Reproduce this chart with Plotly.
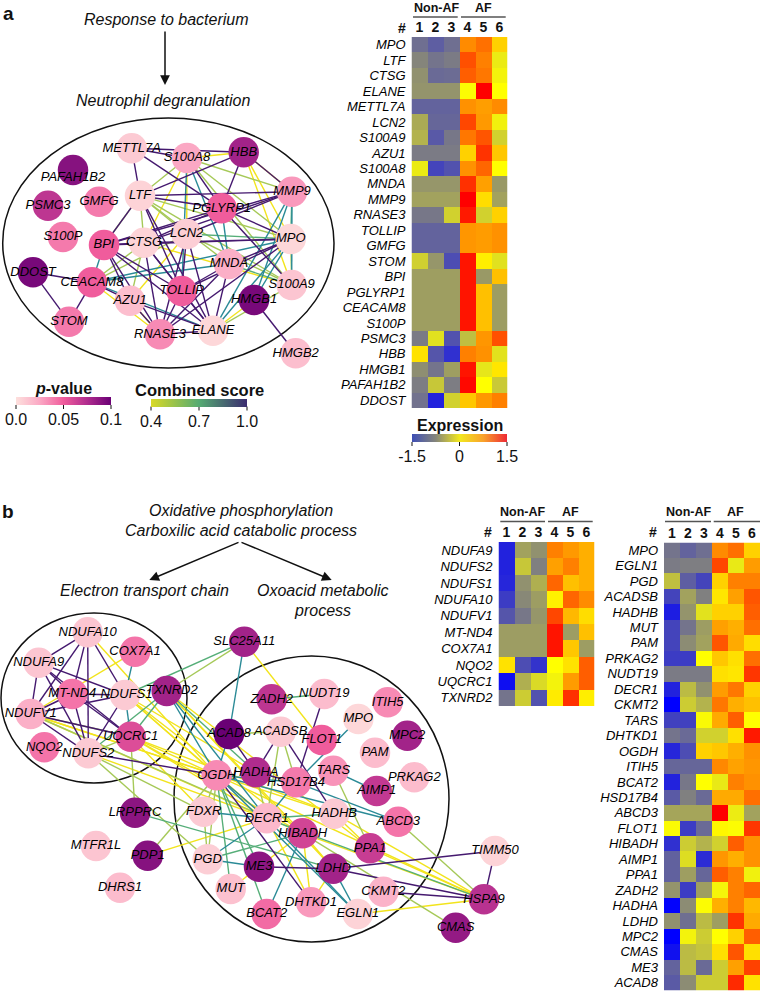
"""
Neutrophil and mitochondrial gene networks with expression heatmaps
"""

import plotly.graph_objects as go
from plotly.colors import sample_colorscale

W = 760
H = 992
FONT = "Liberation Sans"

samples = [1, 2, 3, 4, 5, 6]

# ---- heatmap a
genes_a = ["MPO", "LTF", "CTSG", "ELANE", "METTL7A", "LCN2", "S100A9", "AZU1", "S100A8", "MNDA",
           "MMP9", "RNASE3", "TOLLIP", "GMFG", "STOM", "BPI", "PGLYRP1", "CEACAM8", "S100P",
           "PSMC3", "HBB", "HMGB1", "PAFAH1B2", "DDOST"]
expr_a = [
    [-0.85, -0.95, -0.85, 0.68, 0.84, 0.27],
    [-0.72, -0.82, -0.78, 1.03, 0.75, -0.12],
    [-0.65, -0.88, -0.87, 0.95, 0.80, -0.07],
    [-0.63, -0.63, -0.63, -0.02, 1.50, 0.00],
    [-0.92, -0.92, -0.92, 0.65, 0.57, 0.68],
    [-0.50, -0.90, -0.90, 1.08, 0.60, -0.08],
    [-0.45, -0.98, -0.80, 0.80, 1.00, -0.27],
    [-0.78, -0.78, -0.78, 0.27, 1.20, 0.33],
    [-0.12, -1.10, -1.02, 0.65, 0.90, 0.00],
    [-0.62, -0.62, -0.62, 1.22, 0.56, -0.60],
    [-0.55, -0.55, -0.55, 1.50, 0.20, -0.55],
    [-0.80, -0.80, -0.27, 1.35, -0.27, 0.27],
    [-0.92, -0.92, -0.92, 0.62, 0.58, 0.65],
    [-0.92, -0.92, -0.92, 0.62, 0.58, 0.65],
    [-0.28, -0.62, -1.05, 1.38, 0.10, -0.18],
    [-0.57, -0.57, -0.57, 1.38, -0.60, 0.37],
    [-0.57, -0.57, -0.57, 1.38, 0.37, -0.58],
    [-0.57, -0.57, -0.57, 1.38, 0.37, -0.58],
    [-0.57, -0.57, -0.57, 1.38, 0.37, -0.58],
    [-0.78, -0.18, -1.02, -0.38, 0.62, 1.03],
    [0.17, -1.00, -1.22, 0.75, 0.65, -0.17],
    [-0.67, -0.82, -0.57, 1.38, -0.15, 0.15],
    [-0.77, -0.33, -0.77, 1.45, 0.00, -0.32],
    [-0.83, -1.30, -0.27, 0.33, 0.60, 0.75],
]

# ---- heatmap b, left
genes_b1 = ["NDUFA9", "NDUFS2", "NDUFS1", "NDUFA10", "NDUFV1", "MT-ND4", "COX7A1", "NQO2", "UQCRC1", "TXNRD2"]
expr_b1 = [
    [-1.30, -0.55, -0.65, 0.75, 0.60, 0.47],
    [-1.30, -0.33, -0.75, 0.56, 0.75, 0.47],
    [-1.28, -0.65, -0.47, 0.90, 0.37, 0.47],
    [-1.15, -0.70, -0.58, 0.08, 0.90, 0.68],
    [-1.00, -0.80, -0.62, 1.08, 0.42, 0.20],
    [-0.58, -0.58, -0.58, 1.38, -0.58, 0.37],
    [-0.58, -0.58, -0.58, 1.38, 0.33, -0.58],
    [0.17, -1.05, -1.20, 0.00, 0.17, 0.95],
    [-1.42, -0.47, -0.22, -0.07, 0.58, 0.95],
    [-0.82, -0.30, -1.02, 0.12, 1.22, 0.10],
]

# ---- heatmap b, right
genes_b2 = ["MPO", "EGLN1", "PGD", "ACADSB", "HADHB", "MUT", "PAM", "PRKAG2", "NUDT19", "DECR1", "CKMT2",
            "TARS", "DHTKD1", "OGDH", "ITIH5", "BCAT2", "HSD17B4", "ABCD3", "FLOT1", "HIBADH", "AIMP1",
            "PPA1", "ZADH2", "HADHA", "LDHD", "MPC2", "CMAS", "ME3", "ACAD8"]
expr_b2 = [
    [-0.82, -0.92, -0.85, 0.68, 0.85, 0.27],
    [-0.78, -0.76, -0.76, 1.08, -0.13, 0.58],
    [-0.37, -0.95, -1.10, 0.27, 0.75, 0.75],
    [-1.10, -0.55, -0.75, 0.15, 0.56, 1.00],
    [-1.33, -0.63, -0.17, 0.27, 0.27, 0.95],
    [-1.10, -0.82, -0.58, 0.56, 0.47, 0.85],
    [-1.10, -0.68, -0.55, 1.00, 0.50, 0.20],
    [-1.15, -1.15, 0.00, 0.33, 0.18, 0.85],
    [-0.78, -0.78, -0.78, 0.18, 0.15, 1.18],
    [-1.30, -0.40, -0.65, 0.58, 0.80, 0.27],
    [-1.50, -0.30, -0.45, 0.80, 0.47, 0.37],
    [-1.12, -1.12, -0.03, 0.50, 0.95, 0.00],
    [-0.82, -0.88, -0.27, -0.27, 0.18, 1.35],
    [-1.28, -1.05, 0.27, 0.33, 0.47, 0.65],
    [-0.90, -0.90, -0.90, 0.70, 0.55, 0.62],
    [-1.30, -0.80, 0.00, -0.13, 0.75, 0.65],
    [-0.97, -0.75, -0.88, 0.50, 0.50, 0.85],
    [-0.53, -0.53, -0.53, 1.50, -0.11, -0.55],
    [-0.03, -1.15, -0.88, 0.05, -0.02, 1.18],
    [-1.22, -0.30, -0.45, -0.27, 0.95, 0.65],
    [-0.93, -0.20, -1.25, 0.62, 0.47, 0.65],
    [-0.93, -0.57, -0.90, 0.95, 0.75, -0.08],
    [-0.63, -1.15, -0.57, -0.06, 0.75, 0.90],
    [-1.48, -0.68, -0.02, 0.47, 0.75, 0.42],
    [-0.65, -0.85, -0.40, -0.57, 1.20, 0.50],
    [-1.50, -0.07, -0.30, 0.00, 0.27, 0.95],
    [-1.40, -0.40, -0.35, 0.18, 1.00, 0.18],
    [-0.92, -0.40, -0.88, -0.30, 0.56, 1.12],
    [-0.97, -0.68, -0.30, -0.30, 1.25, 0.17],
]

# ---- network a: node layout and p-values
nodes_a = ["METTL7A", "S100A8", "HBB", "PAFAH1B2", "PSMC3", "GMFG", "LTF", "PGLYRP1", "MMP9", "S100P",
           "BPI", "CTSG", "LCN2", "MPO", "MNDA", "DDOST", "CEACAM8", "TOLLIP", "S100A9", "HMGB1",
           "AZU1", "STOM", "RNASE3", "ELANE", "HMGB2"]
layout_ax = [131.7, 187, 243.7, 73, 48, 99, 140, 221.7, 292, 63,
             104, 144, 186.7, 290.7, 229, 33, 92, 181.7, 291.7, 254,
             130, 69, 160, 213, 295.7]
layout_ay = [148.3, 158, 152.3, 170, 205.7, 201.7, 195.7, 208.3, 191.7, 237,
             245, 242.7, 234, 239, 264, 272.3, 282.3, 291, 285, 300,
             300.7, 321.7, 334.3, 330.7, 353.3]
pval_a = [0.010, 0.025, 0.080, 0.090, 0.070, 0.040, 0.006, 0.050, 0.030, 0.040,
          0.050, 0.006, 0.008, 0.004, 0.022, 0.095, 0.050, 0.050, 0.012, 0.095,
          0.015, 0.040, 0.035, 0.004, 0.015]

edges_a_040 = [("S100A8", "CTSG"), ("S100A8", "LCN2"), ("HBB", "MPO"), ("HBB", "S100A9"), ("HBB", "MMP9"),
               ("CTSG", "S100A9"), ("AZU1", "RNASE3"), ("AZU1", "LCN2"), ("CEACAM8", "RNASE3"),
               ("HMGB1", "ELANE"), ("S100A8", "HBB")]
edges_a_055 = [("S100A8", "LTF"), ("S100A8", "MMP9"), ("S100A8", "MPO"), ("S100A8", "S100A9"),
               ("LTF", "CTSG"), ("LTF", "LCN2"), ("LTF", "MNDA"), ("LTF", "MPO"), ("LTF", "S100A9"),
               ("LTF", "BPI"), ("MPO", "S100A9"), ("CEACAM8", "CTSG"), ("CEACAM8", "LCN2"),
               ("CTSG", "AZU1"), ("LCN2", "S100A9"), ("S100A9", "ELANE")]
edges_a_070 = [("MMP9", "MPO"), ("LCN2", "MPO"), ("MNDA", "S100A9")]
edges_a_085 = [("S100A8", "TOLLIP"), ("S100A8", "MNDA"), ("MMP9", "S100A9"), ("MMP9", "ELANE"),
               ("MMP9", "HMGB1"), ("MPO", "HMGB1"), ("MPO", "ELANE"), ("MPO", "CEACAM8"),
               ("PGLYRP1", "MNDA"), ("CEACAM8", "MNDA"), ("CEACAM8", "ELANE"), ("BPI", "CEACAM8")]
edges_a_100 = [("METTL7A", "S100A8"), ("METTL7A", "HBB"), ("METTL7A", "LTF"), ("METTL7A", "PGLYRP1"),
               ("S100A8", "PGLYRP1"), ("HBB", "LTF"), ("HBB", "PGLYRP1"), ("HBB", "MMP9"),
               ("LTF", "MMP9"), ("LTF", "PGLYRP1"), ("LTF", "BPI"), ("LTF", "TOLLIP"), ("LTF", "ELANE"),
               ("PGLYRP1", "MPO"), ("PGLYRP1", "S100A9"), ("PGLYRP1", "BPI"), ("PGLYRP1", "CTSG"),
               ("MMP9", "BPI"), ("MMP9", "CTSG"), ("MMP9", "LCN2"), ("BPI", "CTSG"), ("BPI", "MPO"),
               ("CTSG", "MPO"), ("MPO", "TOLLIP"), ("MPO", "RNASE3"), ("MNDA", "TOLLIP"),
               ("MNDA", "RNASE3"), ("MNDA", "ELANE"), ("TOLLIP", "ELANE"), ("TOLLIP", "RNASE3"),
               ("AZU1", "ELANE"), ("AZU1", "RNASE3"), ("AZU1", "BPI"), ("BPI", "RNASE3"), ("BPI", "ELANE"),
               ("BPI", "TOLLIP"), ("CTSG", "TOLLIP"), ("CTSG", "ELANE"), ("CTSG", "RNASE3"),
               ("LCN2", "TOLLIP"), ("LCN2", "RNASE3"), ("LCN2", "ELANE"), ("RNASE3", "ELANE"),
               ("DDOST", "CEACAM8"), ("DDOST", "STOM"), ("CEACAM8", "STOM"), ("HMGB1", "HMGB2"),
               ("CEACAM8", "AZU1"), ("MPO", "MNDA")]

# ---- network b: node layout and p-values
nodes_b = ["NDUFA10", "COX7A1", "NDUFA9", "SLC25A11", "MT-ND4", "NDUFS1", "TXNRD2", "NDUFV1", "UQCRC1", "NQO2",
           "NDUFS2", "ACAD8", "OGDH", "HADHA", "LRPPRC", "FDXR", "MTFR1L", "PDP1", "PGD", "ME3",
           "DHRS1", "ZADH2", "NUDT19", "ITIH5", "MPO", "MPC2", "ACADSB", "FLOT1", "PAM", "TARS",
           "PRKAG2", "HSD17B4", "AIMP1", "HADHB", "ABCD3", "DECR1", "HIBADH", "PPA1", "LDHD", "CKMT2",
           "DHTKD1", "EGLN1", "BCAT2", "MUT", "HSPA9", "CMAS", "TIMM50"]
layout_bx = [87.7, 135, 38.7, 244.3, 72.3, 125, 166.7, 30.7, 130.7, 44.3,
             88.3, 229, 216.7, 255.7, 135, 203.7, 96, 147.7, 207.7, 259,
             120, 271.7, 324.3, 387.7, 358.3, 407.3, 280.7, 321.7, 375, 333.3,
             414.3, 296, 376.7, 334.3, 398.3, 266.7, 302.7, 370, 333.3, 383.3,
             311, 357.7, 266.7, 230.7, 484, 455.7, 495]
layout_by = [632.3, 651.7, 662.7, 641.7, 694, 695, 691, 714, 736.7, 747.3,
             753.3, 734, 775.3, 772.3, 812.7, 811.7, 846, 855.7, 859.3, 866.7,
             887.7, 699.3, 694, 702.3, 719, 735.7, 731.7, 740, 752.7, 770.7,
             777.3, 782.3, 791, 813.7, 821.7, 818.3, 833.3, 848.3, 868.7, 891.7,
             902.3, 914, 914, 889, 899.3, 927.7, 851]
pval_b = [0.012, 0.042, 0.012, 0.080, 0.042, 0.010, 0.080, 0.022, 0.058, 0.042,
          0.010, 0.100, 0.035, 0.075, 0.088, 0.010, 0.012, 0.090, 0.008, 0.088,
          0.016, 0.070, 0.016, 0.035, 0.004, 0.080, 0.010, 0.050, 0.016, 0.032,
          0.016, 0.040, 0.068, 0.010, 0.042, 0.018, 0.062, 0.066, 0.080, 0.020,
          0.030, 0.006, 0.045, 0.014, 0.072, 0.085, 0.006]

edges_b_040 = [("NDUFA10", "OGDH"), ("COX7A1", "NDUFV1"), ("SLC25A11", "FLOT1"), ("NDUFS1", "OGDH"),
               ("NDUFS1", "DECR1"), ("NDUFS1", "HIBADH"), ("NDUFS1", "HADHA"), ("UQCRC1", "OGDH"),
               ("UQCRC1", "DECR1"), ("UQCRC1", "HIBADH"), ("UQCRC1", "FDXR"), ("NDUFV1", "OGDH"),
               ("NDUFV1", "DECR1"), ("NDUFS2", "DECR1"), ("TXNRD2", "HIBADH"), ("TXNRD2", "PPA1"),
               ("NDUFV1", "HADHB"), ("UQCRC1", "HADHB"), ("PDP1", "DECR1"), ("OGDH", "HSPA9"),
               ("HIBADH", "DHTKD1"), ("HIBADH", "LDHD"), ("MUT", "ME3"), ("LDHD", "DHTKD1"),
               ("HADHB", "PPA1"), ("PPA1", "HSPA9"), ("HIBADH", "HSPA9"), ("HADHB", "HSPA9"),
               ("EGLN1", "HSPA9"), ("DECR1", "DHTKD1"), ("TXNRD2", "LDHD"), ("ME3", "HIBADH")]
edges_b_055 = [("UQCRC1", "LRPPRC"), ("NDUFS2", "FDXR"), ("NDUFS2", "PGD"), ("NDUFV1", "HIBADH"),
               ("NDUFS2", "UQCRC1"), ("SLC25A11", "TXNRD2"), ("PDP1", "OGDH"), ("ACAD8", "ACADSB"),
               ("ACADSB", "HSD17B4"), ("ACADSB", "DECR1"), ("TARS", "PPA1"), ("ABCD3", "HSPA9"),
               ("CMAS", "HIBADH"), ("OGDH", "FDXR"), ("OGDH", "PGD"), ("HADHA", "DECR1"),
               ("FDXR", "PGD"), ("UQCRC1", "NDUFV1")]
edges_b_070 = [("SLC25A11", "NDUFS1"), ("TXNRD2", "UQCRC1"), ("TXNRD2", "NDUFS2"), ("LRPPRC", "LDHD"),
               ("ZADH2", "NUDT19"), ("TXNRD2", "HADHA"), ("OGDH", "ME3"), ("OGDH", "BCAT2"), ("OGDH", "MUT"),
               ("DECR1", "HADHB"), ("HIBADH", "PGD"), ("DECR1", "HSPA9")]
edges_b_085 = [("COX7A1", "NDUFS1"), ("NDUFS1", "UQCRC1"), ("SLC25A11", "ACAD8"), ("ACAD8", "OGDH"),
               ("MPO", "HSD17B4"), ("TARS", "AIMP1"), ("TXNRD2", "OGDH"), ("TXNRD2", "DECR1"),
               ("OGDH", "DECR1"), ("OGDH", "EGLN1"), ("OGDH", "ABCD3"), ("OGDH", "HSD17B4"),
               ("HSD17B4", "DECR1"), ("HSD17B4", "ABCD3"), ("DECR1", "PGD"), ("FDXR", "DECR1"),
               ("DECR1", "EGLN1"), ("HIBADH", "BCAT2"), ("PGD", "ME3"), ("LDHD", "EGLN1")]
edges_b_100 = [("NDUFA10", "NDUFA9"), ("NDUFA10", "MT-ND4"), ("NDUFA10", "NDUFV1"), ("NDUFA10", "NDUFS1"),
               ("NDUFA10", "NDUFS2"), ("NDUFA9", "MT-ND4"), ("NDUFA9", "NDUFS1"), ("NDUFA9", "NDUFV1"),
               ("NDUFA9", "NDUFS2"), ("NDUFA9", "UQCRC1"), ("MT-ND4", "NDUFS1"), ("MT-ND4", "NDUFV1"),
               ("MT-ND4", "NDUFS2"), ("MT-ND4", "UQCRC1"), ("NDUFS1", "NDUFV1"), ("NDUFS1", "NDUFS2"),
               ("NDUFV1", "NDUFS2"), ("NDUFV1", "UQCRC1"), ("NDUFS2", "OGDH"), ("ACAD8", "HADHA"),
               ("ACADSB", "HADHA"), ("ACADSB", "HADHB"), ("NUDT19", "HSD17B4"), ("TIMM50", "HSPA9"),
               ("TIMM50", "LDHD"), ("LDHD", "HSPA9"), ("OGDH", "DHTKD1"), ("HADHA", "HSD17B4"),
               ("ME3", "LDHD"), ("CKMT2", "HSPA9")]

# ---- legend ticks
expr_ticks = [-1.5, 0, 1.5]
expr_ticklabels = ["-1.5", "0", "1.5"]
p_ticks = [0.0, 0.05, 0.1]
p_ticklabels = ["0.0", "0.05", "0.1"]
score_ticks = [0.4, 0.7, 1.0]
score_ticklabels = ["0.4", "0.7", "1.0"]

EXPR_SCALE = [[0, "#0000ff"], [0.25, "#808080"], [0.5, "#ffff00"], [1, "#ff0000"]]
EXPR_LEGEND = [[0, "#3f4fb5"], [0.25, "#85857a"], [0.5, "#f2e81e"], [0.75, "#f9a22b"], [1, "#ee2a36"]]
P_SCALE = [[0, "#fde0dd"], [0.25, "#fba8c4"], [0.5, "#f05c9c"], [0.75, "#b02c8e"], [1, "#6a0075"]]
SCORE_SCALE = [[0, "#f2e41c"], [0.25, "#a6c958"], [0.5, "#55ae78"], [0.75, "#2a8a96"], [1, "#45196f"]]
SCORE_LEGEND = [[0, "#d9d926"], [0.5, "#55ab72"], [1, "#3b2c70"]]

# labels that sit off their node centre
label_shift = {"PAFAH1B2": (0, 8), "TXNRD2": (5, 0), "NDUFS1": (1.5, 0)}


def dom_x(x0, x1):
    return [x0 / W, x1 / W]


def dom_y(y0, y1):
    return [1 - y1 / H, 1 - y0 / H]


def add_edges(fig, lookup, edges, score):
    """Edges of one score class as one line trace"""
    xs, ys = [], []
    for a, b in edges:
        xs += [lookup[a][0], lookup[b][0], None]
        ys += [lookup[a][1], lookup[b][1], None]
    colour = sample_colorscale(SCORE_SCALE, (score - 0.4) / 0.6)[0]
    fig.add_trace(go.Scatter(x=xs, y=ys, mode="lines", line=dict(color=colour, width=1.4),
                             hoverinfo="skip", showlegend=False))


def add_network(fig, names, xs, ys, pvals, edge_sets):
    lookup = dict(zip(names, zip(xs, ys)))
    for score, edges in edge_sets:
        add_edges(fig, lookup, edges, score)
    fig.add_trace(go.Scatter(
        x=xs, y=ys, mode="markers", marker=dict(size=30.5, color=pvals, coloraxis="coloraxis2"),
        hovertext=names, showlegend=False
    ))
    fig.add_trace(go.Scatter(
        x=[x + label_shift.get(n, (0, 0))[0] for n, x in zip(names, xs)],
        y=[y + label_shift.get(n, (0, 0))[1] for n, y in zip(names, ys)],
        mode="text", text=names, textposition="middle center", hoverinfo="skip", showlegend=False,
        textfont=dict(family=FONT, size=13, style="italic", color="#000000"),
    ))


def add_heatmap(fig, n, genes, values, left, top, bottom):
    fig.add_trace(go.Heatmap(z=values, x=samples, y=genes, coloraxis="coloraxis",
                             xaxis=f"x{n}", yaxis=f"y{n}", xgap=0, ygap=0))
    fig.update_layout({
        f"xaxis{n}": dict(domain=dom_x(left, min(left + 96, W)), side="top", tickmode="array", tickvals=samples,
                          ticks="", showgrid=False, zeroline=False, anchor=f"y{n}", ticklabelstandoff=1,
                          tickfont=dict(family=FONT, size=14, weight=700, color="#111111")),
        f"yaxis{n}": dict(domain=dom_y(top, bottom), autorange="reversed", ticks="", showgrid=False,
                          zeroline=False, anchor=f"x{n}", tickmode="linear", dtick=1, ticklabelstandoff=5,
                          tickfont=dict(family=FONT, size=13, style="italic", color="#000000")),
    })


def text(fig, x, y, label, size=16, italic=True, bold=False, anchor="center"):
    fig.add_annotation(x=x, y=y, xref="x", yref="y", text=label, showarrow=False, xanchor=anchor,
                       yanchor="middle",
                       font=dict(family=FONT, size=size, color="#111111",
                                 style="italic" if italic else "normal", weight=700 if bold else 400))


def arrow(fig, x0, y0, x1, y1):
    fig.add_annotation(x=x1, y=y1, ax=x0, ay=y0, xref="x", yref="y", axref="x", ayref="y", text="",
                       showarrow=True, arrowhead=2, arrowsize=1.3, arrowwidth=1.5, arrowcolor="#111111")


def circle(fig, x0, y0, x1, y1):
    fig.add_shape(type="circle", xref="x", yref="y", x0=x0, y0=y0, x1=x1, y1=y1,
                  line=dict(color="#111111", width=1.5), layer="below")


def rule(fig, x0, x1, y):
    fig.add_shape(type="line", xref="x", yref="y", x0=x0, x1=x1, y0=y, y1=y,
                  line=dict(color="#555555", width=1.5))


def colorbar(x, y, length, ticks, labels):
    return dict(orientation="h", x=x / W, xanchor="left", y=1 - y / H, yanchor="top", xref="paper", yref="paper",
                len=length, lenmode="pixels", thickness=8, thicknessmode="pixels", xpad=0, ypad=0,
                outlinewidth=0, ticks="", tickmode="array", tickvals=ticks, ticktext=labels,
                tickfont=dict(family=FONT, size=16, color="#111111"))


def legend_ticks(fig, x, y, length, ticks):
    """Short tick marks under a colorbar, the colorbar's own push the labels too far down"""
    for t in ticks:
        pos = x + (t - ticks[0]) / (ticks[-1] - ticks[0]) * length
        fig.add_shape(type="line", xref="x", yref="y", x0=pos, x1=pos, y0=y + 8, y1=y + 12,
                      line=dict(color="#111111", width=1))


fig = go.Figure()

add_network(fig, nodes_a, layout_ax, layout_ay, pval_a,
            [(0.4, edges_a_040), (0.55, edges_a_055), (0.7, edges_a_070), (0.85, edges_a_085), (1.0, edges_a_100)])
add_network(fig, nodes_b, layout_bx, layout_by, pval_b,
            [(0.4, edges_b_040), (0.55, edges_b_055), (0.7, edges_b_070), (0.85, edges_b_085), (1.0, edges_b_100)])

# invisible traces, they only carry the legend colorbars
fig.add_trace(go.Scatter(x=[-10, -10, -10], y=[-10, -10, -10], mode="markers", hoverinfo="skip", showlegend=False,
                         marker=dict(size=1, opacity=0, color=score_ticks, coloraxis="coloraxis3")))
fig.add_trace(go.Scatter(x=[-10, -10, -10], y=[-10, -10, -10], mode="markers", hoverinfo="skip", showlegend=False,
                         marker=dict(size=1, opacity=0, color=expr_ticks, coloraxis="coloraxis4")))

add_heatmap(fig, 2, genes_a, expr_a, 411.5, 37, 408)
add_heatmap(fig, 3, genes_b1, expr_b1, 498.5, 542, 706)
add_heatmap(fig, 4, genes_b2, expr_b2, 664, 542.5, 990.5)

circle(fig, 2.7, 118, 334, 368)
circle(fig, 1, 613, 187, 783)
circle(fig, 174, 656, 449, 942)

text(fig, 8, 13, "a", size=19, italic=False, bold=True)
text(fig, 8, 511, "b", size=19, italic=False, bold=True)

text(fig, 166, 19, "Response to bacterium")
arrow(fig, 165, 30, 165, 85)
text(fig, 163, 100, "Neutrophil degranulation")

text(fig, 241, 510.5, "Oxidative phosphorylation")
text(fig, 241, 530, "Carboxilic acid catabolic process")
arrow(fig, 240, 541.7, 149.3, 580)
arrow(fig, 240, 541.7, 331.7, 580)
text(fig, 144, 590, "Electron transport chain")
text(fig, 322.7, 590, "Oxoacid metabolic")
text(fig, 322.7, 610, "process")

# group headers over each heatmap
for non_x, af_x, non_line, af_line, top, hash_x in [
    (436, 483, (413, 457.7), (461, 505.7), 7.5, 402),
    (522.7, 570, (500.3, 545), (548, 592.7), 512, 488),
    (688, 735.7, (665, 711), (713.7, 760), 512, 653),
]:
    text(fig, non_x, top, "Non-AF", size=12.5, italic=False, bold=True)
    text(fig, af_x, top, "AF", size=12.5, italic=False, bold=True)
    rule(fig, non_line[0], non_line[1], top + 9.5)
    rule(fig, af_line[0], af_line[1], top + 9.5)
    text(fig, hash_x, top + 20, "#", size=14, italic=False, bold=True)

# legends
text(fig, 459.5, 425, "Expression", size=16, italic=False, bold=True)
text(fig, 63, 388, "<i>p</i>-value", size=16, italic=False, bold=True)
text(fig, 199, 389.5, "Combined score", size=16.5, italic=False, bold=True)
legend_ticks(fig, 412, 434, 95, expr_ticks)
legend_ticks(fig, 16, 397, 95, p_ticks)
legend_ticks(fig, 151, 398.5, 96, score_ticks)

fig.update_layout(
    width=W,
    height=H,
    margin=dict(l=0, r=0, t=0, b=0),
    paper_bgcolor="white",
    plot_bgcolor="rgba(0,0,0,0)",
    showlegend=False,
    font=dict(family=FONT),
    xaxis=dict(domain=[0, 1], range=[0, W], visible=False, fixedrange=True),
    yaxis=dict(domain=[0, 1], range=[H, 0], visible=False, fixedrange=True),
    coloraxis=dict(colorscale=EXPR_SCALE, cmin=-1.5, cmax=1.5, showscale=False),
    coloraxis2=dict(colorscale=P_SCALE, cmin=0, cmax=0.1,
                    colorbar=colorbar(16, 397, 95, p_ticks, p_ticklabels)),
    coloraxis3=dict(colorscale=SCORE_LEGEND, cmin=0.4, cmax=1.0,
                    colorbar=colorbar(151, 398.5, 96, score_ticks, score_ticklabels)),
    coloraxis4=dict(colorscale=EXPR_LEGEND, cmin=-1.5, cmax=1.5,
                    colorbar=colorbar(412, 434, 95, expr_ticks, expr_ticklabels)),
)

fig.write_html("out.html", config=dict(displayModeBar=False), post_script="document.body.style.margin='0';")
